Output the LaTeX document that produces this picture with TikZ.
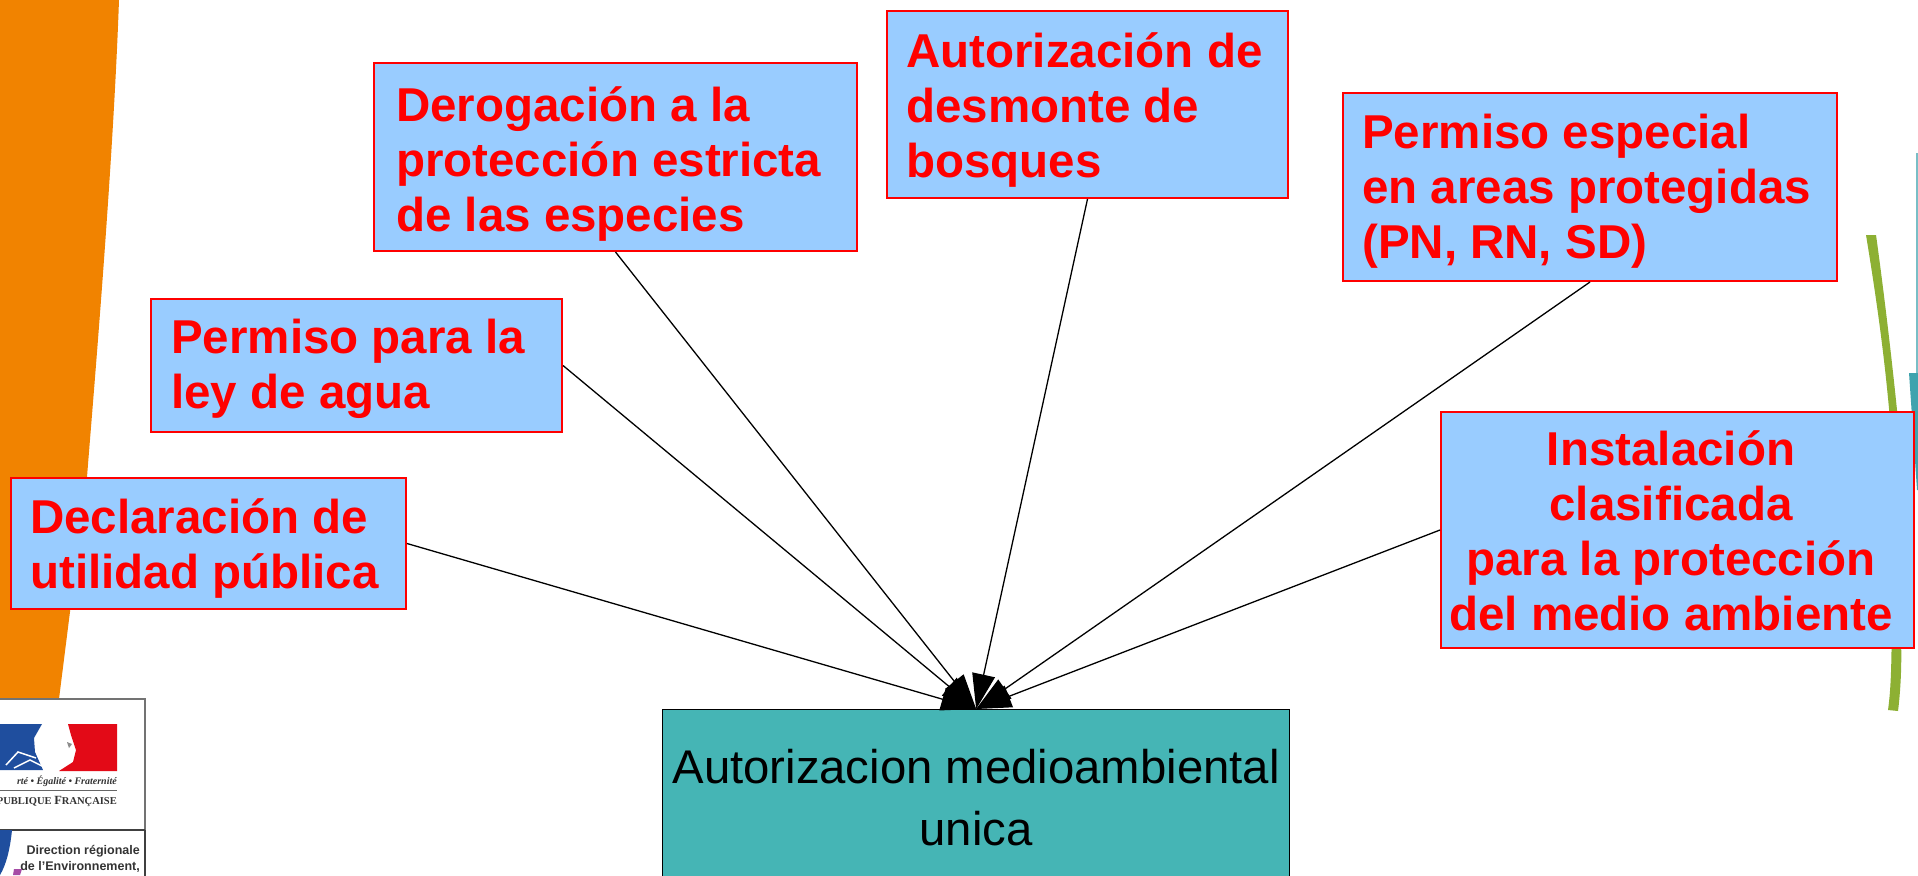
\documentclass[tikz,border=0pt]{standalone}
\usepackage{fontspec}
\setmainfont{Liberation Sans}
\newfontfamily\logoserif{Liberation Serif}
\usetikzlibrary{arrows.meta}
\definecolor{boxblue}{HTML}{99CCFF}
\definecolor{tealbox}{HTML}{45B5B5}
\definecolor{orangeband}{HTML}{F18300}
\definecolor{greenline}{HTML}{8DB033}
\definecolor{tealmark}{HTML}{3FA3AE}
\definecolor{flagblue}{HTML}{1F4E9E}
\definecolor{flagred}{HTML}{E30A17}
\tikzset{
  x=1pt,y=-1pt,
  permit/.style={draw=red,line width=2pt,fill=boxblue,inner sep=0pt,anchor=north west},
  permittext/.style={text=red,inner sep=0pt,font=\fontsize{47.5}{55}\selectfont\bfseries},
  link/.style={draw=black,line width=1.3pt,-{Triangle[length=35pt,width=23pt]}},
  logotext/.style={inner sep=0pt,anchor=east,text=black!80},
}
\newcommand{\permitbox}[7]{% name, x0, y0, x1, y1, placement, text
  \pgfmathsetmacro{\bw}{#4-#2}\pgfmathsetmacro{\bh}{#5-#3}
  \node[permit,minimum width=\bw pt,minimum height=\bh pt] (#1) at (#2,#3) {};
  \node[permittext,#6] (#1t) {#7};
}
\begin{document}
\begin{tikzpicture}
\useasboundingbox (0,0) rectangle (1918,875);
\clip (0,0) rectangle (1918,875);
\fill[white] (0,0) rectangle (1918,875);
% orange band
\fill[orangeband] (0,0) -- (119,0) .. controls (113,170) and (93,400) .. (87,477) -- (59,699) -- (0,699) -- cycle;
% right marks
\fill[greenline] (1866,235) -- (1876,235) .. controls (1885,300) and (1893,370) .. (1898,420) -- (1901,640) .. controls (1902,670) and (1900,695) .. (1898,711) -- (1888,710) .. controls (1892,680) and (1893,650) .. (1890,420) .. controls (1884,350) and (1875,290) .. cycle;
\fill[tealmark] (1909,373) -- (1918,373) -- (1918,490) -- (1917,490) -- cycle;
\fill[tealmark!70] (1916,153) rectangle (1918,373);
% logo
\draw[black!55,line width=1.5pt] (-2,699) rectangle (145,830);
\draw[black!75,line width=1.5pt] (145,830) -- (145,877) (-2,830) -- (145,830);
\fill[flagblue] (0,724) -- (42,724) -- (34,738) -- (35,752) -- (43,770) -- (0,770) -- cycle;
\draw[white,line width=1.5pt] (6,765) -- (18,752) -- (36,758) (14,768) -- (30,760) -- (42,766);
\fill[flagred] (68,724) -- (117,724) -- (117,771) -- (59,771) -- (73,762) -- (76,750) -- (71,735) -- cycle;
\fill[black!45] (67,742) -- (72,744) -- (69,748) -- cycle;
\node[logotext,font=\fontsize{10}{11}\logoserif\itshape\bfseries] (lib) at (117,781) {rté • Égalité • Fraternité};
\node[logotext,font=\fontsize{10.5}{11}\logoserif\bfseries] (rep) at (117,801) {PUBLIQUE {\fontsize{12.5}{13}\selectfont F}RANÇAISE};
\draw[black!60,line width=1pt] (0,790) -- (117,790);
\node[logotext,font=\fontsize{12.5}{13}\selectfont\bfseries] (dir) at (140,851) {Direction régionale};
\node[logotext,font=\fontsize{12.5}{13}\selectfont\bfseries] (env) at (140,867) {de l'Environnement,};
\fill[flagblue] (0,830) -- (12,830) .. controls (10,850) and (6,865) .. (0,875) -- cycle;
\fill[violet!70] (14,869) -- (22,869) -- (20,875) -- (13,875) -- cycle;
% boxes
\node[draw=black,line width=1.3pt,fill=tealbox,minimum width=627pt,minimum height=176pt,inner sep=0pt,anchor=north west,align=center,
  font=\fontsize{47.3}{62}\selectfont] (auth) at (662,709) {Autorizacion medioambiental\\unica};
\permitbox{dup}{10}{477}{405}{608}{align=left,anchor=west,at={(30,549)}}{Declaración de\\utilidad pública}
\permitbox{agua}{150}{298}{561}{431}{align=left,anchor=west,at={(171,369)}}{Permiso para la\\ley de agua}
\permitbox{derog}{373}{62}{856}{250}{align=left,anchor=west,at={(396,164)}}{Derogación a la\\protección estricta\\de las especies}
\permitbox{desm}{886}{10}{1287}{197}{align=left,anchor=west,at={(906,110)}}{Autorización de\\desmonte de\\bosques}
\permitbox{area}{1342}{92}{1836}{280}{align=left,anchor=west,at={(1362,191)}}{Permiso especial\\en areas protegidas\\(PN, RN, SD)}
\permitbox{inst}{1440}{411}{1913}{647}{align=center,anchor=center,at={(1671,531)}}{Instalación\\clasificada\\para la protección\\del medio ambiente}
% connectors
\draw[link] (dup.east) -- (auth.north);
\draw[link] (agua.east) -- (auth.north);
\draw[link] (derog.south) -- (auth.north);
\draw[link] (desm.south) -- (auth.north);
\draw[link] (area.south) -- (auth.north);
\draw[link] (inst.west) -- (auth.north);
\end{tikzpicture}
\end{document}
